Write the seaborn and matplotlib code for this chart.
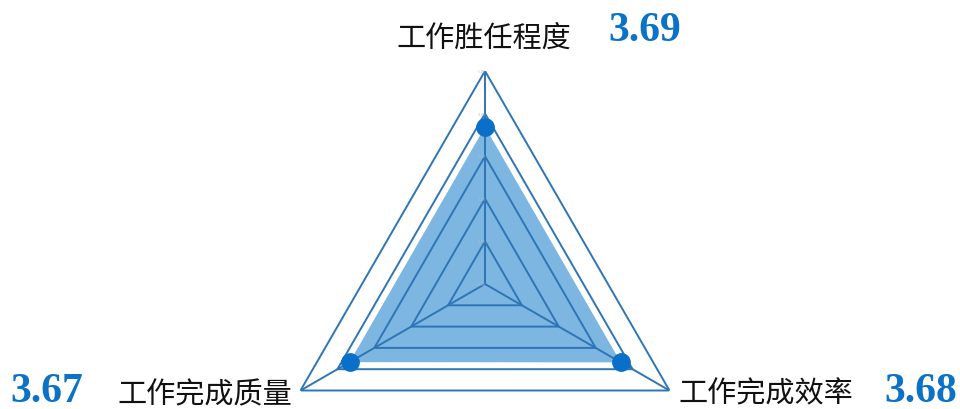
import numpy as np
import matplotlib.pyplot as plt
import seaborn as sns

# data
categories = ['工作胜任程度', '工作完成效率', '工作完成质量']
scores = [3.69, 3.68, 3.67]
levels = [1, 2, 3, 4, 5]
tick_labels = ['0.00', '1.00', '2.00', '3.00', '4.00', '5.00']

sns.set_theme(style='white')
plt.rcParams['font.family'] = ['Noto Sans CJK SC', 'DejaVu Sans']

line_c = '#2E75B6'
fill_c = '#7EB6E2'
dot_c = '#0A6FC8'
num_c = '#0B72C6'

W, H = 960, 410
fig = plt.figure(figsize=(W / 100, H / 100), dpi=100)
# polar axes centred on the triangle, radius 213 px
cx, cy, R = 485, 285, 213
ax = fig.add_axes([(cx - R) / W, (H - cy - R) / H, 2 * R / W, 2 * R / H], projection='polar')
ax.set_theta_offset(np.pi / 2)
ax.set_theta_direction(-1)
ax.set_ylim(0, levels[-1])
ax.grid(False)
ax.spines['polar'].set_visible(False)
ax.set_xticks([])
ax.set_yticks([])
ax.patch.set_alpha(0)

theta = np.linspace(0, 2 * np.pi, len(categories), endpoint=False)
closed = np.append(theta, theta[0])
vals = np.append(scores, scores[0])

ax.fill(closed, vals, color=fill_c, lw=0, zorder=1)
for lv in levels:
    ax.plot(closed, [lv] * len(closed), color=line_c, lw=1.4, zorder=2)
for t in theta:
    ax.plot([t, t], [0, levels[-1]], color=line_c, lw=1.4, zorder=2)
ax.plot(theta, scores, 'o', ms=12.5, color=dot_c, zorder=3, clip_on=False)

# tiny tick labels along the top spoke
for lv, lab in zip([0] + levels, tick_labels):
    ax.text(0, lv, lab + ' ', fontsize=2.5, color='#bbbbbb', ha='right', va='center')

# category labels and values
label_pos = [(484, 39), (766, 394), (205, 395)]
value_pos = [(645, 31), (921, 392), (47, 392)]
for cat, sc, (lx, ly), (vx, vy) in zip(categories, scores, label_pos, value_pos):
    fig.text(lx / W, 1 - ly / H, cat, fontsize=21, color='#111111', ha='center', va='center')
    fig.text(vx / W, 1 - vy / H, f'{sc:.2f}', fontsize=30, color=num_c, fontweight='bold',
             family='Liberation Serif', ha='center', va='center')

fig.savefig('out.png', dpi=100)
